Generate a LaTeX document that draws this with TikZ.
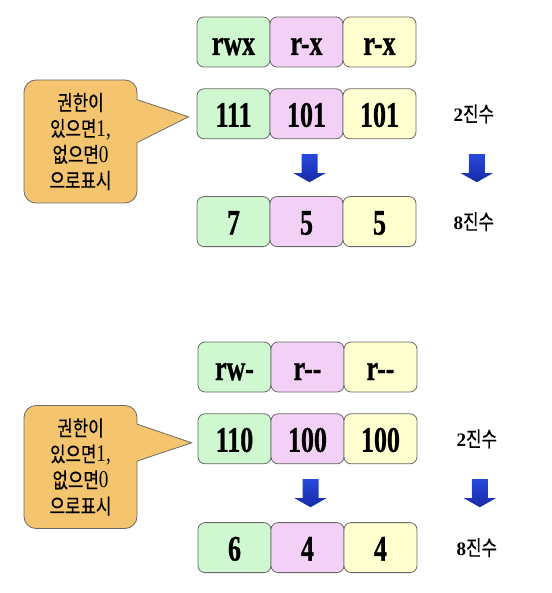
\documentclass[tikz,border=0pt]{standalone}
\usepackage{fontspec}
\setmainfont{Liberation Serif}
\newfontfamily\kr[FakeStretch=0.8,FakeBold=0.5]{Noto Sans CJK KR}
\newfontfamily\cellfont[FakeStretch=0.72,UprightFont=* Bold,FakeBold=0.8]{Liberation Serif}
\newfontfamily\notedigit[FakeStretch=0.8]{Liberation Serif}
\usetikzlibrary{positioning,calc}

\definecolor{permgreen}{RGB}{208,248,208}
\definecolor{permpink}{RGB}{243,208,245}
\definecolor{permyellow}{RGB}{255,255,208}
\definecolor{notefill}{RGB}{245,196,110}
\definecolor{boxline}{RGB}{105,105,105}
\definecolor{arrtop}{RGB}{40,72,222}
\definecolor{arrbot}{RGB}{22,42,165}

\tikzset{
    cell/.style={draw=boxline, line width=0.8pt, rounded corners=7pt, minimum width=73pt, minimum height=50pt, inner sep=0pt, text height=26pt, text depth=0pt, font=\cellfont\fontsize{36}{36}\selectfont},
    note/.style={draw=boxline, line width=0.8pt, fill=notefill, rounded corners=12pt, minimum width=113pt, minimum height=123pt, inner sep=0pt, align=center, font=\fontsize{21}{26}\selectfont},
    lbl/.style={inner sep=0pt, font=\fontsize{21}{21}\selectfont},
    blkarrow/.pic={\shade[top color=arrtop, bottom color=arrbot] (-8,0) -- (8,0) -- (8,19) -- (16,19) -- (0,28) -- (-16,19) -- (-8,19) -- cycle;}
}

\begin{document}
\begin{tikzpicture}[x=1pt,y=-1pt]
        \useasboundingbox (0,0) rectangle (551,593);

        \node[cell, fill=permgreen] (p1) at (233.5,42) {rwx};
        \node[cell, fill=permpink, right=-0.8pt of p1] (p2) {r-x};
        \node[cell, fill=permyellow, right=-0.8pt of p2] (p3) {r-x};

        \node[cell, fill=permgreen, below=21pt of p1] (b1) {111};
        \node[cell, fill=permpink, right=-0.8pt of b1] (b2) {101};
        \node[cell, fill=permyellow, right=-0.8pt of b2] (b3) {101};

        \node[cell, fill=permgreen, below=57pt of b1] (o1) {7};
        \node[cell, fill=permpink, right=-0.8pt of o1] (o2) {5};
        \node[cell, fill=permyellow, right=-0.8pt of o2] (o3) {5};

        \node[lbl, right=37pt of b3] (bin1) {{\bfseries\fontsize{19}{19}\selectfont 2}{\kr 진수}};
        \node[lbl, right=37pt of o3] (oct1) {{\bfseries\fontsize{19}{19}\selectfont 8}{\kr 진수}};

        \pic at ($(b2.south)+(3,15)$) {blkarrow};
        \pic at ($(b3.south -| bin1)+(3,15)$) {blkarrow};

        \node[note] (n1) at (80.5,141.5) {{\kr 권한이}\\{\kr 있으면}{\notedigit\fontsize{24}{26}\selectfont 1,}\\{\kr 없으면}{\notedigit\fontsize{24}{26}\selectfont 0}\\{\kr 으로표시}};
        \fill[notefill] ($(n1.north east)+(-1.5,20)$) -- ($(b1.west)+(-8,3)$) -- ($(n1.north east)+(-1.5,63)$) -- cycle;
        \draw[boxline, line width=0.8pt] ($(n1.north east)+(-0.4,20)$) -- ($(b1.west)+(-8,3)$) -- ($(n1.north east)+(-0.4,63)$);

        \node[cell, fill=permgreen] (p4) at (234.5,367) {rw-};
        \node[cell, fill=permpink, right=-0.8pt of p4] (p5) {r-{}-};
        \node[cell, fill=permyellow, right=-0.8pt of p5] (p6) {r-{}-};

        \node[cell, fill=permgreen, below=21pt of p4] (b4) {110};
        \node[cell, fill=permpink, right=-0.8pt of b4] (b5) {100};
        \node[cell, fill=permyellow, right=-0.8pt of b5] (b6) {100};

        \node[cell, fill=permgreen, below=58pt of b4] (o4) {6};
        \node[cell, fill=permpink, right=-0.8pt of o4] (o5) {4};
        \node[cell, fill=permyellow, right=-0.8pt of o5] (o6) {4};

        \node[lbl, right=39pt of b6] (bin2) {{\bfseries\fontsize{19}{19}\selectfont 2}{\kr 진수}};
        \node[lbl, right=39pt of o6] (oct2) {{\bfseries\fontsize{19}{19}\selectfont 8}{\kr 진수}};

        \pic at ($(b5.south)+(3,15)$) {blkarrow};
        \pic at ($(b6.south -| bin2)+(3,15)$) {blkarrow};

        \node[note] (n2) at (80.5,467) {{\kr 권한이}\\{\kr 있으면}{\notedigit\fontsize{24}{26}\selectfont 1,}\\{\kr 없으면}{\notedigit\fontsize{24}{26}\selectfont 0}\\{\kr 으로표시}};
        \fill[notefill] ($(n2.north east)+(-1.5,19)$) -- ($(b4.west)+(-6,4)$) -- ($(n2.north east)+(-1.5,56)$) -- cycle;
        \draw[boxline, line width=0.8pt] ($(n2.north east)+(-0.4,19)$) -- ($(b4.west)+(-6,4)$) -- ($(n2.north east)+(-0.4,56)$);
    \end{tikzpicture}
\end{document}
